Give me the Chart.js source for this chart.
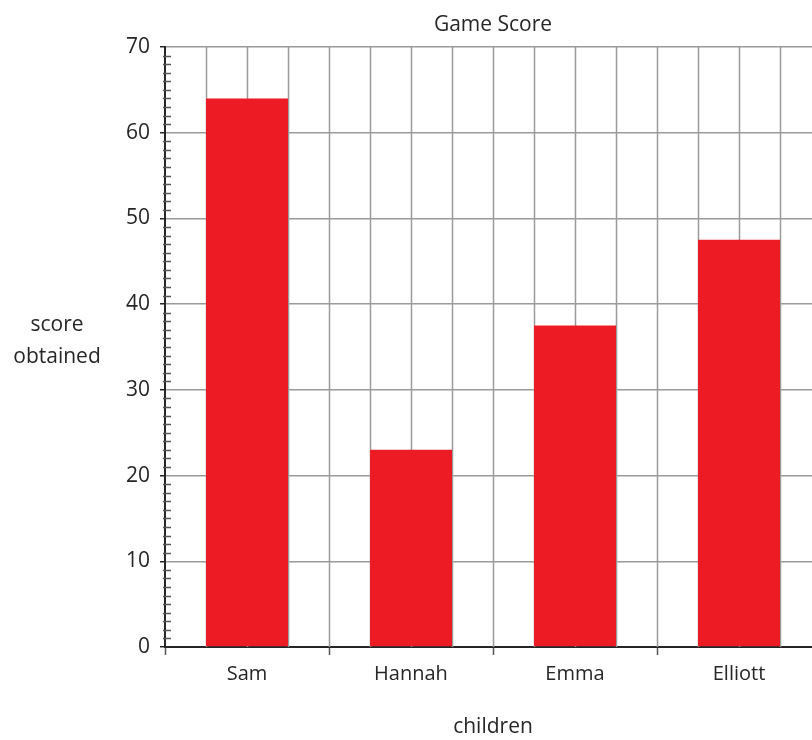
<!DOCTYPE html>
<html>
<head>
<meta charset="utf-8">
<script src="https://cdn.jsdelivr.net/npm/chart.js@4/dist/chart.umd.min.js"></script>
<style>
  html, body { margin: 0; padding: 0; background: #fff; overflow: hidden; }
  #wrap { width: 830px; height: 740px; }
</style>
</head>
<body>
<div id="wrap"><canvas id="chart"></canvas></div>
<script>
const children = ['Sam', 'Hannah', 'Emma', 'Elliott']
const scores = [64, 23, 37.5, 47.5]
const yMin = 0
const yMax = 70

const FONT = '"Open Sans", "Noto Sans", sans-serif'
const INK = '#262626'
const GRID = '#9a9a9a'

// quarter-category vertical grid lines + minor ticks on y axis + side labels
const paperPlugin = {
  id: 'paper',
  beforeDatasetsDraw (chart) {
    const { ctx, chartArea, scales: { x } } = chart
    const w = x.getPixelForValue(1) - x.getPixelForValue(0)
    const start = x.getPixelForValue(0) - w / 2
    ctx.save()
    ctx.strokeStyle = GRID
    ctx.lineWidth = 1.5
    for (let k = 1; k <= children.length * 4; k++) {
      const px = Math.round(start + k * w / 4) + 0.5
      ctx.beginPath()
      ctx.moveTo(px, chartArea.top)
      ctx.lineTo(px, chartArea.bottom)
      ctx.stroke()
    }
    ctx.restore()
  },
  afterDraw (chart) {
    const { ctx, chartArea, scales: { y } } = chart
    ctx.save()
    ctx.strokeStyle = '#555'
    ctx.lineWidth = 1.5
    for (let v = yMin + 1; v < yMax; v++) {
      if (v % 10 === 0) continue
      const py = Math.round(y.getPixelForValue(v)) + 0.5
      ctx.beginPath()
      ctx.moveTo(chartArea.left - 2, py)
      ctx.lineTo(chartArea.left + 6, py)
      ctx.stroke()
    }
    ctx.fillStyle = INK
    ctx.textAlign = 'center'
    ctx.textBaseline = 'middle'
    ctx.font = '21px ' + FONT
    ctx.fillText('score', 57, 325)
    ctx.fillText('obtained', 57, 357)
    ctx.font = '21px ' + FONT
    ctx.fillText('Game Score', (chartArea.left + chartArea.right) / 2, 25)
    ctx.restore()
  }
}

new Chart(document.getElementById('chart').getContext('2d'), {
  type: 'bar',
  data: {
    labels: children,
    datasets: [{
      label: 'score obtained',
      data: scores,
      backgroundColor: '#ed1c24',
      borderWidth: 0,
      categoryPercentage: 1,
      barPercentage: 0.5
    }]
  },
  options: {
    responsive: true,
    maintainAspectRatio: false,
    animation: false,
    layout: { padding: { top: 47, right: 9, left: 0, bottom: 0 } },
    plugins: {
      legend: { display: false },
      tooltip: { enabled: false }
    },
    scales: {
      x: {
        afterFit: s => { s.height = 93 },
        grid: {
          offset: true,
          drawOnChartArea: false,
          drawTicks: true,
          tickLength: 8,
          tickColor: '#555',
          tickWidth: 1.5
        },
        border: { color: INK, width: 2 },
        ticks: { color: INK, font: { family: FONT, size: 20 }, padding: 7 },
        title: {
          display: true,
          text: 'children',
          color: INK,
          font: { family: FONT, size: 21 },
          padding: { top: 0, bottom: 0 }
        }
      },
      y: {
        min: yMin,
        max: yMax,
        afterFit: s => { s.width = 165 },
        ticks: {
          stepSize: 10,
          color: INK,
          font: { family: FONT, size: 21 },
          padding: 10
        },
        grid: {
          color: GRID,
          lineWidth: 1.5,
          drawTicks: true,
          tickLength: 5,
          tickColor: INK
        },
        border: { color: INK, width: 2 }
      }
    }
  },
  plugins: [paperPlugin]
})
</script>
</body>
</html>
